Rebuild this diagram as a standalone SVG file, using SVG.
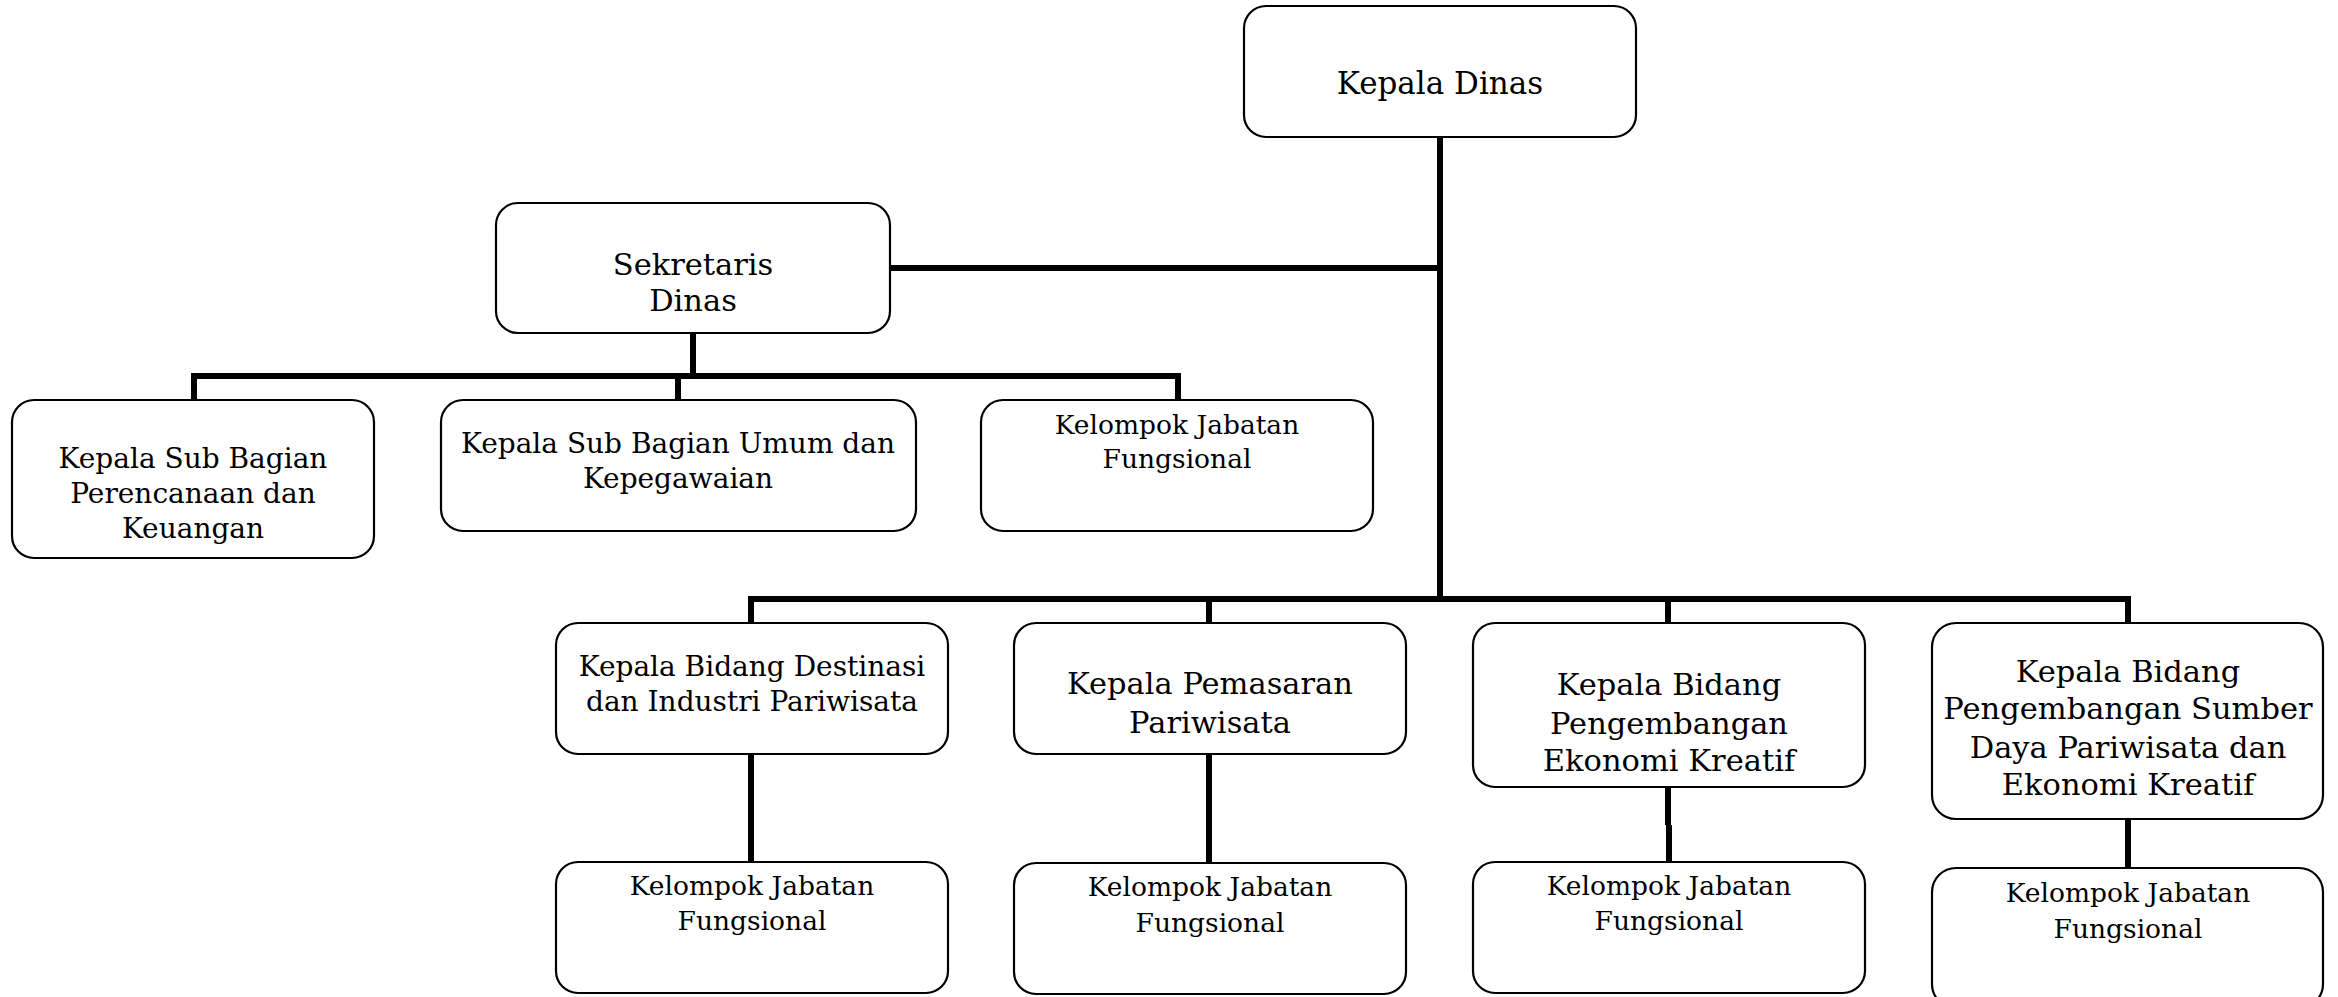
<svg xmlns="http://www.w3.org/2000/svg" width="2338" height="997" viewBox="0 0 2338 997">
  <style>
    .box { fill: #ffffff; stroke: #000000; stroke-width: 2.2; }
    .lbl { font-family: "DejaVu Serif", "Liberation Serif", serif; fill: #000000; text-anchor: middle; }
    .big { font-size: 31px; }
    .mid { font-size: 28px; }
    .lrg { font-size: 30.5px; }
    .sml { font-size: 26.5px; }
    .wire { fill: none; stroke: #000000; stroke-width: 6; stroke-linecap: butt; }
  </style>
  <rect width="2338" height="997" fill="#ffffff"/>

  <!-- connectors -->
  <g id="connectors">
    <path class="wire" d="M1440,137 V602"/>
    <path class="wire" d="M890,268 H1443"/>
    <path class="wire" d="M693,333 V376"/>
    <path class="wire" d="M191,376 H1181"/>
    <path class="wire" d="M194,373 V400 M678,376 V400 M1178,373 V400"/>
    <path class="wire" d="M748,599 H2131"/>
    <path class="wire" d="M751,596 V623 M1209,599 V623 M1668,599 V623 M2128,596 V623"/>
    <path class="wire" d="M751,754 V862 M1209,754 V863 M1668,787 V825 M1669,825 V862 M2128,819 V868"/>
  </g>

  <g id="kepala-dinas">
    <rect class="box" x="1244" y="6" width="392" height="131" rx="22"/>
    <text class="lbl big" x="1440" y="94">Kepala Dinas</text>
  </g>

  <g id="sekretaris-dinas">
    <rect class="box" x="496" y="203" width="394" height="130" rx="22"/>
    <text class="lbl lrg" x="693" y="275">Sekretaris</text>
    <text class="lbl lrg" x="693" y="311">Dinas</text>
  </g>

  <g id="subbag-perencanaan">
    <rect class="box" x="12" y="400" width="362" height="158" rx="22"/>
    <text class="lbl mid" x="193" y="468">Kepala Sub Bagian</text>
    <text class="lbl mid" x="193" y="503">Perencanaan dan</text>
    <text class="lbl mid" x="193" y="538">Keuangan</text>
  </g>

  <g id="subbag-umum">
    <rect class="box" x="441" y="400" width="475" height="131" rx="22"/>
    <text class="lbl mid" x="678" y="453">Kepala Sub Bagian Umum dan</text>
    <text class="lbl mid" x="678" y="488">Kepegawaian</text>
  </g>

  <g id="jafung-sekretariat">
    <rect class="box" x="981" y="400" width="392" height="131" rx="22"/>
    <text class="lbl sml" x="1177" y="434">Kelompok Jabatan</text>
    <text class="lbl sml" x="1177" y="468">Fungsional</text>
  </g>

  <g id="bidang-destinasi">
    <rect class="box" x="556" y="623" width="392" height="131" rx="22"/>
    <text class="lbl mid" x="752" y="676">Kepala Bidang Destinasi</text>
    <text class="lbl mid" x="752" y="711">dan Industri Pariwisata</text>
  </g>

  <g id="bidang-pemasaran">
    <rect class="box" x="1014" y="623" width="392" height="131" rx="22"/>
    <text class="lbl lrg" x="1210" y="694">Kepala Pemasaran</text>
    <text class="lbl lrg" x="1210" y="733">Pariwisata</text>
  </g>

  <g id="bidang-ekraf">
    <rect class="box" x="1473" y="623" width="392" height="164" rx="22"/>
    <text class="lbl lrg" x="1669" y="695">Kepala Bidang</text>
    <text class="lbl lrg" x="1669" y="734">Pengembangan</text>
    <text class="lbl lrg" x="1669" y="771">Ekonomi Kreatif</text>
  </g>

  <g id="bidang-sdm">
    <rect class="box" x="1932" y="623" width="391" height="196" rx="24"/>
    <text class="lbl lrg" x="2128" y="682">Kepala Bidang</text>
    <text class="lbl lrg" x="2128" y="719">Pengembangan Sumber</text>
    <text class="lbl lrg" x="2128" y="758">Daya Pariwisata dan</text>
    <text class="lbl lrg" x="2128" y="795">Ekonomi Kreatif</text>
  </g>

  <g id="jafung-destinasi">
    <rect class="box" x="556" y="862" width="392" height="131" rx="22"/>
    <text class="lbl sml" x="752" y="895">Kelompok Jabatan</text>
    <text class="lbl sml" x="752" y="930">Fungsional</text>
  </g>

  <g id="jafung-pemasaran">
    <rect class="box" x="1014" y="863" width="392" height="131" rx="22"/>
    <text class="lbl sml" x="1210" y="896">Kelompok Jabatan</text>
    <text class="lbl sml" x="1210" y="932">Fungsional</text>
  </g>

  <g id="jafung-ekraf">
    <rect class="box" x="1473" y="862" width="392" height="131" rx="22"/>
    <text class="lbl sml" x="1669" y="895">Kelompok Jabatan</text>
    <text class="lbl sml" x="1669" y="930">Fungsional</text>
  </g>

  <g id="jafung-sdm">
    <rect class="box" x="1932" y="868" width="391" height="140" rx="24"/>
    <text class="lbl sml" x="2128" y="902">Kelompok Jabatan</text>
    <text class="lbl sml" x="2128" y="938">Fungsional</text>
  </g>
</svg>
